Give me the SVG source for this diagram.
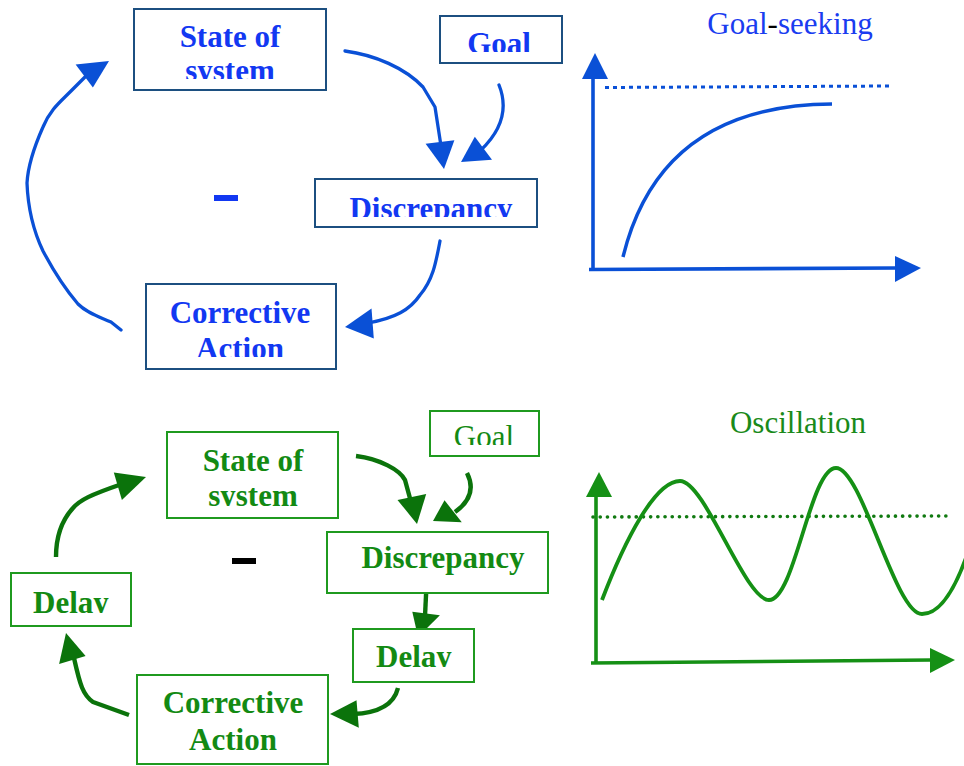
<svg xmlns="http://www.w3.org/2000/svg" width="964" height="766" viewBox="0 0 964 766">
<style>
.bbox{fill:#fff;stroke:#1c4f80;stroke-width:2}
.gbox{fill:#fff;stroke:#1f9a1f;stroke-width:2}
.bt{font-family:"Liberation Serif","Times New Roman",serif;font-weight:bold;font-size:31px;fill:#1238f2;text-anchor:middle}
.gt{font-family:"Liberation Serif","Times New Roman",serif;font-weight:bold;font-size:31px;fill:#138a13;text-anchor:middle}
.title{font-family:"Liberation Serif","Times New Roman",serif;font-size:31px;text-anchor:middle}
.bl{fill:none;stroke:#0a50d6;stroke-width:3.3;stroke-linecap:round;stroke-linejoin:round}
.bh{fill:#0a50d6}
.gl{fill:none;stroke:#0b730b;stroke-width:4.4;stroke-linecap:butt;stroke-linejoin:round}
.gh{fill:#0b730b}
.bax{fill:none;stroke:#0a50d6;stroke-width:3.6}
.gax{fill:none;stroke:#159015;stroke-width:3.6}
.bgh{fill:#0a50d6}
.ggh{fill:#159015}
</style>
<defs>
<clipPath id="c1" clipPathUnits="userSpaceOnUse"><rect x="134" y="10" width="191" height="69"/></clipPath>
<clipPath id="c2" clipPathUnits="userSpaceOnUse"><rect x="441" y="17" width="120" height="35"/></clipPath>
<clipPath id="c3" clipPathUnits="userSpaceOnUse"><rect x="316" y="180" width="220" height="37"/></clipPath>
<clipPath id="c4" clipPathUnits="userSpaceOnUse"><rect x="147" y="285" width="188" height="72"/></clipPath>
<clipPath id="c5" clipPathUnits="userSpaceOnUse"><rect x="168" y="433" width="169" height="73"/></clipPath>
<clipPath id="c6" clipPathUnits="userSpaceOnUse"><rect x="431" y="412" width="107" height="33"/></clipPath>
<clipPath id="c7" clipPathUnits="userSpaceOnUse"><rect x="12" y="574" width="118" height="39"/></clipPath>
<clipPath id="c8" clipPathUnits="userSpaceOnUse"><rect x="354" y="630" width="119" height="37"/></clipPath>
</defs>

<g id="connectors">
  <!-- top loop -->
  <path class="bl" d="M345,51 C375,55 405,68 423,87 L435,107 L441,146"/>
  <polygon class="bh" points="425.6,143.7 454.4,140.3 444,169"/>
  <path class="bl" d="M499,85 C507,105 505,127 481,150"/>
  <polygon class="bh" points="474.8,136.7 492,159.7 461,162"/>
  <path class="bl" d="M440,241 C436,262 433,280 420,295 C410,310 395,318 368,323"/>
  <polygon class="bh" points="371.5,308.6 373.8,338.5 345,327"/>
  <path class="bl" d="M121,330 L111,322 C100,317 88,314 78,304 C66,290 52,268 43,251 C33,230 28,210 27,183 C28,165 35,145 43,127 C50,110 60,102 70,92 L90,72"/>
  <polygon class="bh" points="75.6,64.5 92.9,87.5 109,61"/>
  <!-- bottom loop -->
  <path class="gl" d="M356,456 C380,459 400,470 405,480 L411,502"/>
  <polygon class="gh" points="397.5,499.9 426.2,494.1 417,524"/>
  <path class="gl" d="M467,473 C474,487 472,500 455,512"/>
  <polygon class="gh" points="444.5,500.3 461.8,522.2 433,521"/>
  <path class="gl" d="M427,575 L425,616"/>
  <polygon class="gh" points="412.3,611.7 439.9,615.2 418,637"/>
  <path class="gl" d="M398,688 C394,704 380,713 353,714"/>
  <polygon class="gh" points="356.5,700.2 358.8,727.8 330,714"/>
  <path class="gl" d="M129,715 L93,702 C83,695 80,685 74,658"/>
  <polygon class="gh" points="59.1,664 85.6,656 66,633"/>
  <path class="gl" d="M56,557 C56,535 62,520 73,508 C80,500 90,495 122,484"/>
  <polygon class="gh" points="113.8,472.4 121.9,500 146,477"/>
</g>

<g id="top-state">
  <rect class="bbox" x="134" y="9" width="192" height="81"/>
  <g clip-path="url(#c1)">
    <text class="bt" x="230" y="47">State of</text>
    <text class="bt" x="230" y="81">system</text>
  </g>
</g>
<g id="top-goal">
  <rect class="bbox" x="440" y="16" width="122" height="47"/>
  <g clip-path="url(#c2)"><text class="bt" x="499" y="54">Goal</text></g>
</g>
<g id="top-discrepancy">
  <rect class="bbox" x="315" y="179" width="222" height="48"/>
  <g clip-path="url(#c3)"><text class="bt" x="431" y="219">Discrepancy</text></g>
</g>
<g id="top-corrective">
  <rect class="bbox" x="146" y="284" width="190" height="85"/>
  <g clip-path="url(#c4)">
    <text class="bt" x="240" y="323">Corrective</text>
    <text class="bt" x="240" y="359">Action</text>
  </g>
</g>
<g id="top-minus"><rect x="214" y="195" width="24" height="6" fill="#1238f2"/></g>

<g id="goal-seeking-graph">
  <text class="title" x="790" y="34" fill="#1a3cf0">Goal<tspan fill="#000">-</tspan>seeking</text>
  <line class="bax" x1="593" y1="271" x2="593" y2="78"/>
  <polygon class="bgh" points="582,79 608,79 595,53"/>
  <line class="bax" x1="589" y1="269.5" x2="896" y2="268"/>
  <polygon class="bgh" points="895,256 895,282 921,268"/>
  <line x1="605" y1="87.5" x2="890" y2="86" stroke="#0a50d6" stroke-width="3" stroke-dasharray="4 4"/>
  <path d="M623,257 Q660,105 832,104" fill="none" stroke="#0a50d6" stroke-width="3.5"/>
</g>

<g id="bottom-state">
  <rect class="gbox" x="167" y="432" width="171" height="86"/>
  <g clip-path="url(#c5)">
    <text class="gt" x="253" y="471">State of</text>
    <text class="gt" x="253" y="506">system</text>
  </g>
</g>
<g id="bottom-goal">
  <rect class="gbox" x="430" y="411" width="109" height="45"/>
  <g clip-path="url(#c6)"><text class="gt" x="484" y="447" style="font-weight:normal">Goal</text></g>
</g>
<g id="bottom-discrepancy">
  <rect class="gbox" x="327" y="532" width="221" height="61"/>
  <text class="gt" x="443" y="568">Discrepancy</text>
</g>
<g id="bottom-delay-right">
  <rect class="gbox" x="353" y="629" width="121" height="53"/>
  <g clip-path="url(#c8)"><text class="gt" x="414" y="667">Delay</text></g>
</g>
<g id="bottom-corrective">
  <rect class="gbox" x="137" y="675" width="191" height="89"/>
  <text class="gt" x="233" y="713">Corrective</text>
  <text class="gt" x="233" y="750">Action</text>
</g>
<g id="bottom-delay-left">
  <rect class="gbox" x="11" y="573" width="120" height="53"/>
  <g clip-path="url(#c7)"><text class="gt" x="71" y="613">Delay</text></g>
</g>
<g id="bottom-minus"><rect x="232" y="558" width="24" height="6" fill="#000"/></g>

<g id="oscillation-graph">
  <text class="title" x="798" y="433" fill="#1a8a1a">Oscillation</text>
  <line class="gax" x1="596" y1="663" x2="596" y2="496"/>
  <polygon class="ggh" points="586,497 612,497 599,472"/>
  <line class="gax" x1="591" y1="663" x2="931" y2="660"/>
  <polygon class="ggh" points="930,648 930,673 955,660"/>
  <line x1="593" y1="517" x2="948" y2="516" stroke="#117a11" stroke-width="3.6" stroke-linecap="round" stroke-dasharray="0.1 7.1"/>
  <path d="M602,600 C625,540 655,481 680,481 C705,481 745,600 769,600 C795,600 810,468 836,468 C862,468 895,614 922,614 C940,614 955,590 968,552" fill="none" stroke="#159015" stroke-width="3.8"/>
</g>
</svg>
